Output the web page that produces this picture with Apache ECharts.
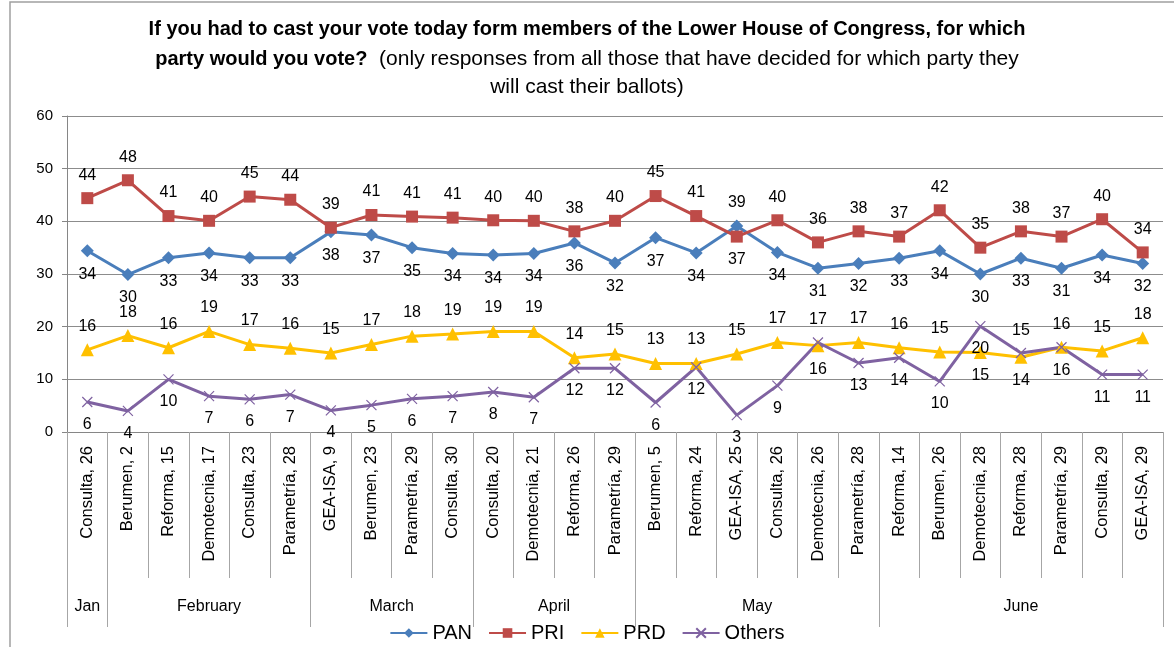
<!DOCTYPE html>
<html>
<head>
<meta charset="utf-8">
<script src="https://cdn.jsdelivr.net/npm/echarts@6/dist/echarts.min.js"></script>
<style>
  html, body { margin: 0; padding: 0; background: #fff; }
  #chart { width: 1174px; height: 647px; }
</style>
</head>
<body>
<div id="chart"></div>
<script>
// poll names + day, left to right
const categories = [
  'Consulta, 26', 'Berumen, 2', 'Reforma, 15', 'Demotecnia, 17', 'Consulta, 23', 'Parametría, 28',
  'GEA-ISA, 9', 'Berumen, 23', 'Parametría, 29', 'Consulta, 30',
  'Consulta, 20', 'Demotecnia, 21', 'Reforma, 26', 'Parametría, 29',
  'Berumen, 5', 'Reforma, 24', 'GEA-ISA, 25', 'Consulta, 26', 'Demotecnia, 26', 'Parametría, 28',
  'Reforma, 14', 'Berumen, 26', 'Demotecnia, 28', 'Reforma, 28', 'Parametría, 29', 'Consulta, 29', 'GEA-ISA, 29'
];
const months = ['Jan', 'February', 'March', 'April', 'May', 'June'];
const monthCounts = [1, 5, 4, 4, 6, 7];

const pan = [34.4, 29.9, 33.1, 34.0, 33.1, 33.1, 38.0, 37.4, 35.0, 33.9, 33.6, 33.9, 35.9, 32.1, 36.9, 34.0, 39.1, 34.1, 31.1, 32.0, 33.0, 34.4, 30.0, 33.0, 31.1, 33.6, 32.0];
const pri = [44.4, 47.8, 41.0, 40.1, 44.7, 44.1, 38.8, 41.2, 40.9, 40.7, 40.2, 40.1, 38.1, 40.1, 44.8, 41.0, 37.1, 40.2, 36.0, 38.1, 37.1, 42.1, 35.0, 38.1, 37.1, 40.4, 34.1];
const prd = [15.6, 18.3, 16.0, 19.1, 16.6, 15.9, 15.0, 16.6, 18.2, 18.6, 19.1, 19.1, 14.1, 14.8, 13.0, 13.0, 14.8, 17.0, 16.4, 17.0, 16.0, 15.2, 15.1, 14.2, 16.1, 15.4, 17.9];
const others = [5.7, 4.0, 10.0, 6.8, 6.2, 7.1, 4.1, 5.1, 6.3, 6.8, 7.6, 6.6, 12.1, 12.1, 5.6, 12.3, 3.2, 8.8, 17.0, 13.1, 14.1, 9.6, 20.1, 15.0, 16.1, 10.9, 10.9];

// where a label sits off its default side (index -> position)
const labelSwaps = {
  PAN: { 16: 'top' },
  PRI: { 16: 'bottom' },
  PRD: { 18: 'bottom', 22: 'bottom', 23: 'bottom', 24: 'bottom' },
  Others: { 18: 'top', 23: 'top', 24: 'top' }
};

const FONT = 'Liberation Sans, Arial, sans-serif';

// month row: half-category slots, month name at the middle of its span
const monthSlots = new Array(categories.length * 2 + 1).fill('');
const monthEdges = [0];
let start = 0;
months.forEach((m, i) => {
  monthSlots[start * 2 + monthCounts[i]] = m;
  start += monthCounts[i];
  monthEdges.push(start * 2);
});

function makeSeries(name, values, color, symbol, size, defaultPos) {
  const swaps = labelSwaps[name] || {};
  return {
    name: name,
    type: 'line',
    data: values.map((v, i) => swaps[i] ? { value: v, label: { position: swaps[i] } } : v),
    symbol: symbol,
    symbolSize: size,
    lineStyle: { color: color, width: 3 },
    itemStyle: symbol.startsWith('path') ?
      { color: 'rgba(0,0,0,0)', borderColor: color, borderWidth: 1.2 } :
      { color: color },
    label: {
      show: true,
      position: defaultPos,
      distance: 9,
      color: '#000',
      fontFamily: FONT,
      fontSize: 16,
      formatter: p => Math.round(p.value)
    },
    emphasis: { disabled: true },
    animation: false
  };
}

const chart = echarts.init(document.getElementById('chart'));

chart.setOption({
  backgroundColor: '#fff',
  title: [
    {
      text: 'If you had to cast your vote today form members of the Lower House of Congress, for which',
      left: 'center', top: 14,
      textStyle: { fontFamily: FONT, fontSize: 20, fontWeight: 'bold', color: '#000' }
    },
    {
      text: '{b|party would you vote?}{r|  (only responses from all those that have decided for which party they}',
      left: 'center', top: 44,
      textStyle: {
        rich: {
          b: { fontFamily: FONT, fontSize: 20, fontWeight: 'bold', color: '#000' },
          r: { fontFamily: FONT, fontSize: 21, fontWeight: 'normal', color: '#000' }
        }
      }
    },
    {
      text: 'will cast their ballots)',
      left: 'center', top: 72,
      textStyle: { fontFamily: FONT, fontSize: 21, fontWeight: 'normal', color: '#000' }
    }
  ],
  graphic: [{
    type: 'rect',
    shape: { x: 10, y: 2, width: 1180, height: 700 },
    style: { fill: 'none', stroke: '#a0a0a0', lineWidth: 1.5 },
    silent: true
  }],
  legend: {
    bottom: -1,
    left: 'center',
    itemWidth: 37,
    itemHeight: 12,
    itemGap: 16,
    textStyle: { fontFamily: FONT, fontSize: 20, color: '#000' },
    data: ['PAN', 'PRI', 'PRD', 'Others']
  },
  grid: { left: 67, right: 11, top: 116, bottom: 215 },
  xAxis: [
    {
      type: 'category',
      data: categories,
      boundaryGap: true,
      axisLine: { lineStyle: { color: '#868686', width: 1 } },
      axisTick: { show: true, interval: 0, length: 146, lineStyle: { color: '#a6a6a6' } },
      axisLabel: {
        interval: 0, rotate: 90, margin: 14,
        fontFamily: FONT, fontSize: 16.5, color: '#000'
      }
    },
    {
      type: 'category',
      position: 'bottom',
      offset: 146,
      data: monthSlots,
      boundaryGap: false,
      axisLine: { show: false },
      axisTick: {
        show: true,
        length: 49,
        interval: idx => monthEdges.includes(idx),
        lineStyle: { color: '#a6a6a6' }
      },
      axisLabel: {
        interval: 0, margin: 21,
        fontFamily: FONT, fontSize: 16, color: '#000'
      }
    }
  ],
  yAxis: {
    type: 'value',
    min: 0, max: 60, interval: 10,
    axisLine: { show: true, lineStyle: { color: '#868686' } },
    axisTick: { show: true, length: 5, lineStyle: { color: '#868686' } },
    axisLabel: { fontFamily: FONT, fontSize: 15, color: '#000', margin: 14 },
    splitLine: { lineStyle: { color: '#8c8c8c', width: 1 } }
  },
  series: [
    makeSeries('PAN', pan, '#4A7EBB', 'diamond', 13, 'bottom'),
    makeSeries('PRI', pri, '#BE4B48', 'rect', 12, 'top'),
    makeSeries('PRD', prd, '#FFC000', 'triangle', 13, 'top'),
    makeSeries('Others', others, '#7F62A1', 'path://M0,0L10,10M10,0L0,10', 10, 'bottom')
  ]
});
</script>
</body>
</html>
